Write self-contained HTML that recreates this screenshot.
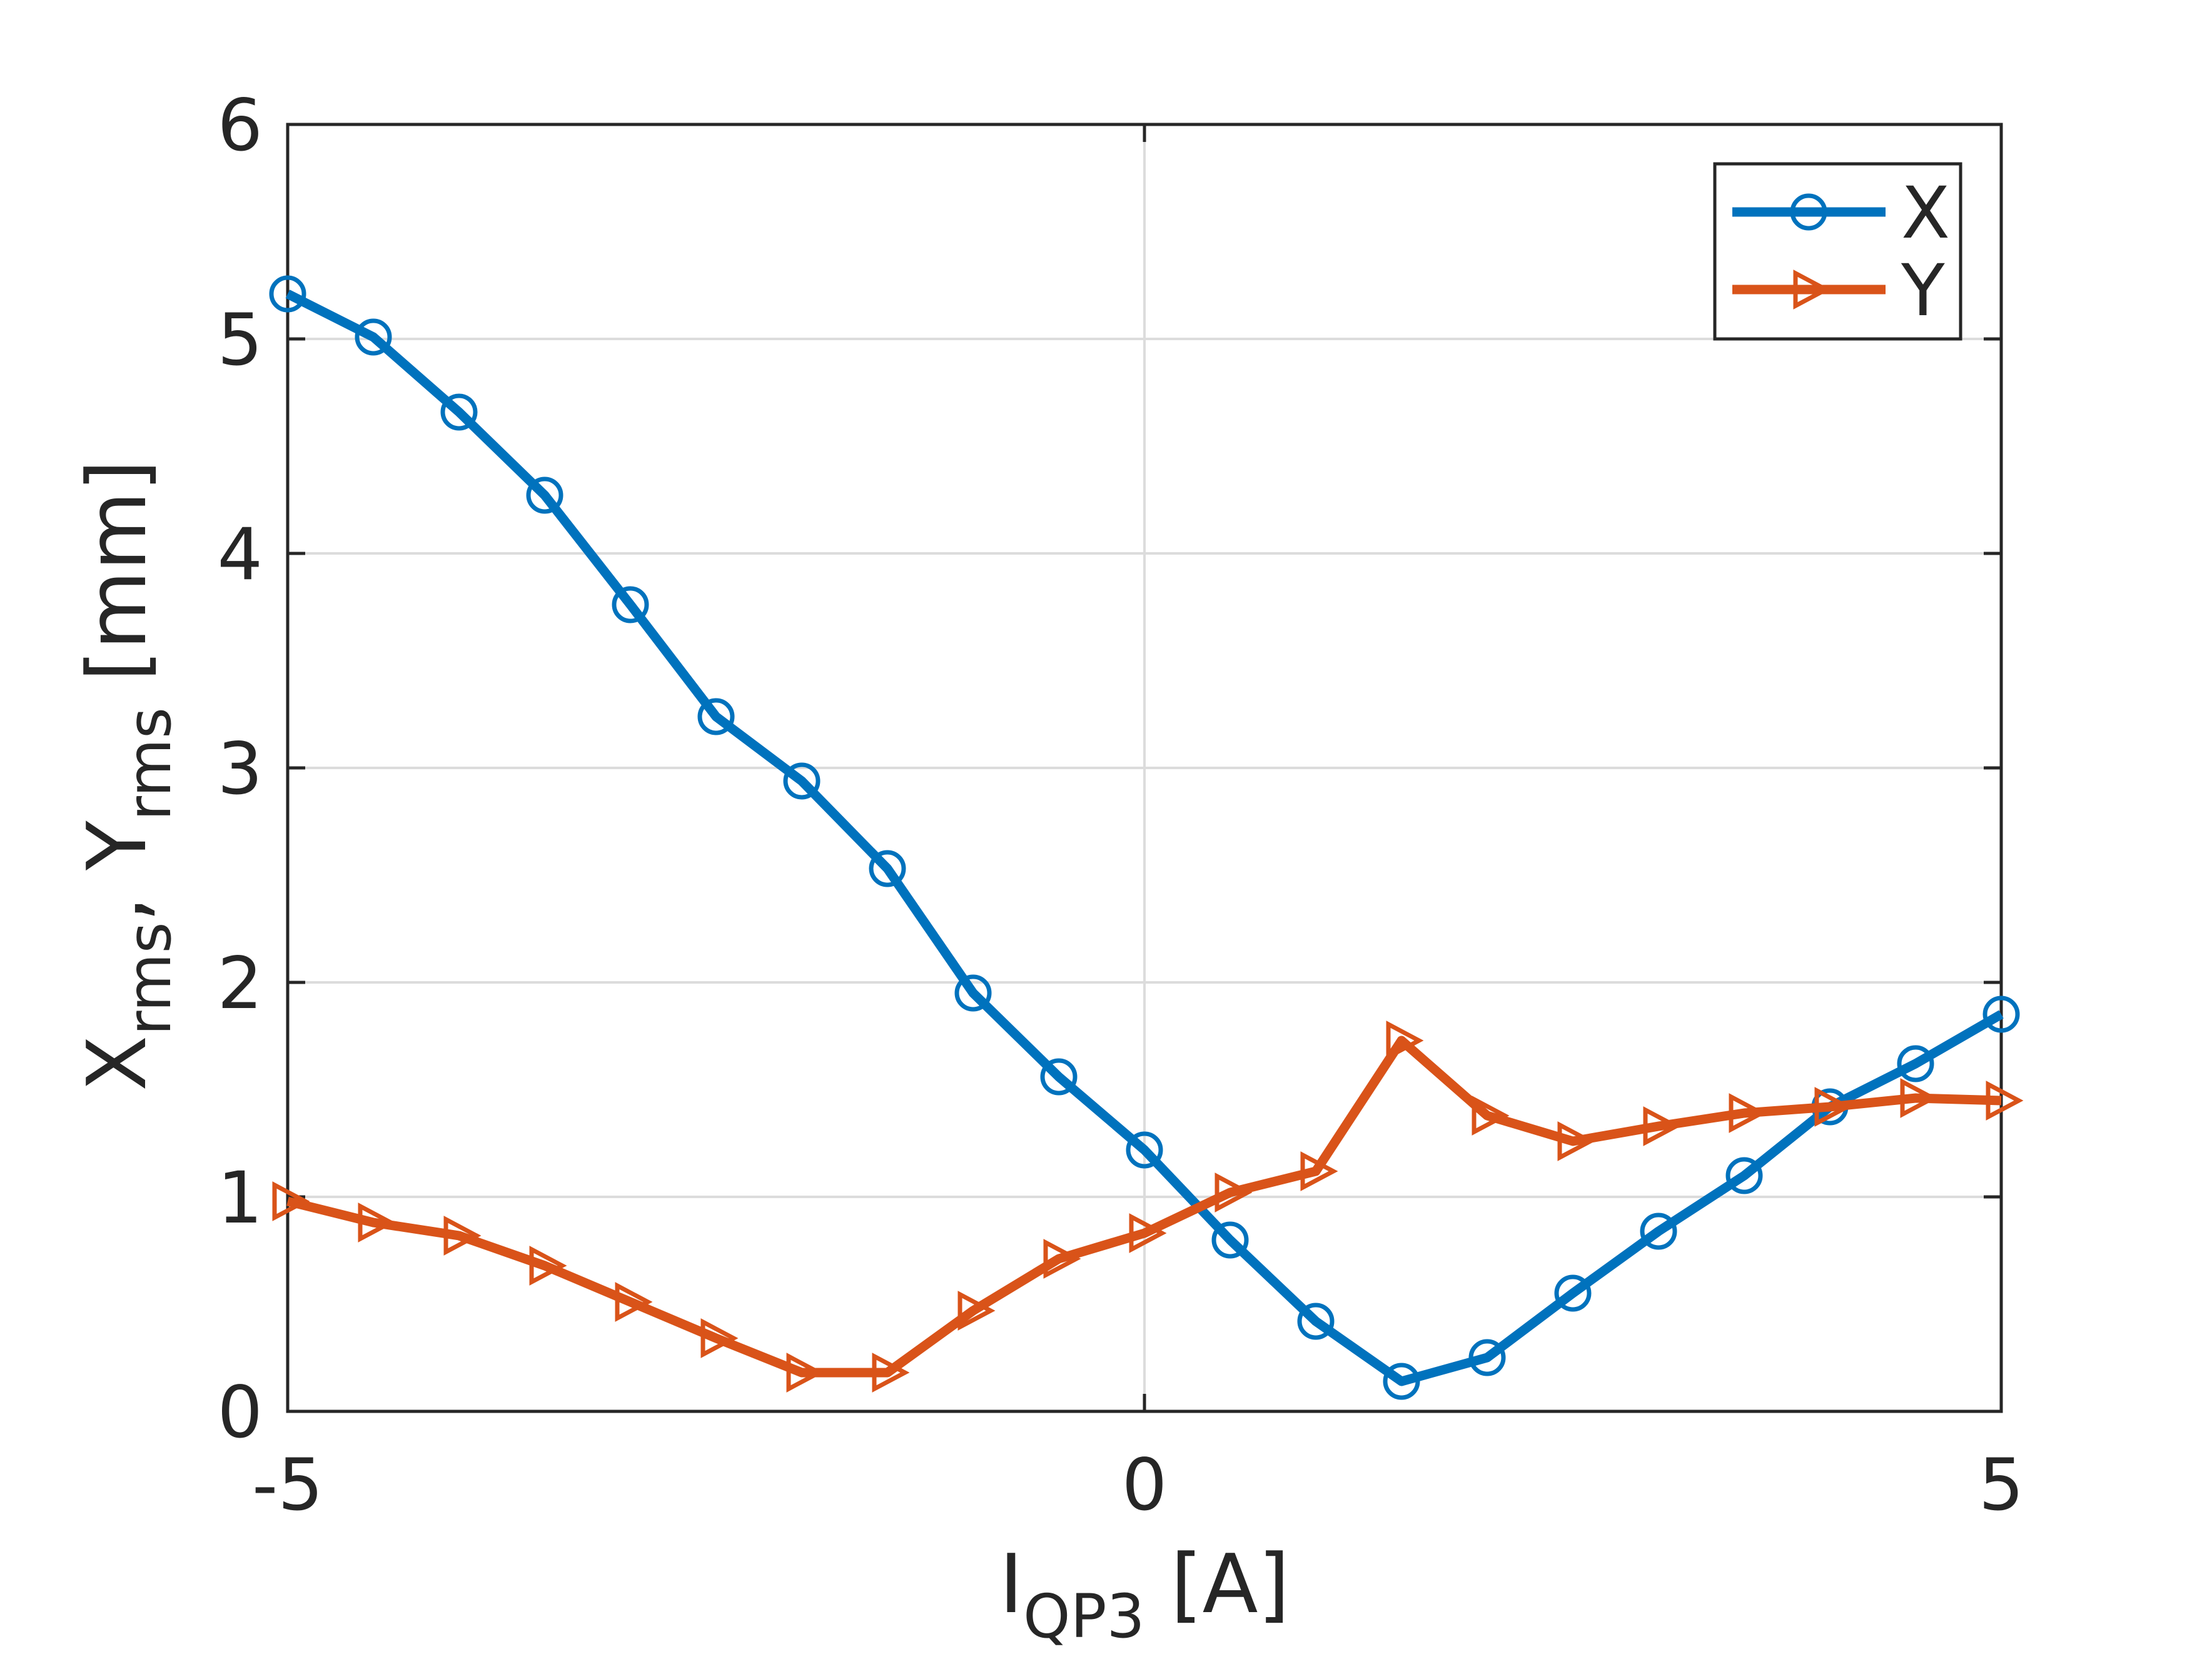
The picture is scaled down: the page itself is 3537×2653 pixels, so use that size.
<!DOCTYPE html>
<html><head><meta charset="utf-8"><style>html,body{margin:0;padding:0;background:#fff}svg{display:block}</style></head>
<body>
<svg width="3537" height="2653" viewBox="0 0 3537 2653" xmlns="http://www.w3.org/2000/svg" font-family="'DejaVu Sans','Liberation Sans',sans-serif" fill="#262626">
<defs><path id="tri" d="M-21,-26 L28,0 L-21,26 Z"/></defs>
<rect width="3537" height="2653" fill="#fff"/>
<g stroke="#dcdcdc" stroke-width="4">
<line x1="460" x2="3200" y1="1914" y2="1914"/><line x1="460" x2="3200" y1="1571" y2="1571"/><line x1="460" x2="3200" y1="1228" y2="1228"/><line x1="460" x2="3200" y1="885" y2="885"/><line x1="460" x2="3200" y1="542" y2="542"/>
<line x1="1830" x2="1830" y1="199" y2="2257"/>
</g>
<g stroke="#262626" stroke-width="5">
<rect x="460" y="199" width="2740" height="2058" fill="none"/>
<path d="M460 1914h28M460 1571h28M460 1228h28M460 885h28M460 542h28M3200 1914h-28M3200 1571h-28M3200 1228h-28M3200 885h-28M3200 542h-28M1830 2257v-28M1830 199v28"/>
</g>
<g font-size="114" text-anchor="end">
<text x="420" y="2298">0</text><text x="420" y="1955">1</text><text x="420" y="1612">2</text><text x="420" y="1269">3</text><text x="420" y="926">4</text><text x="420" y="583">5</text><text x="420" y="240">6</text>
</g>
<g font-size="114" text-anchor="middle">
<text x="460" y="2414">-5</text><text x="1830" y="2414">0</text><text x="3200" y="2414">5</text>
</g>
<text x="1830" y="2578" font-size="130" text-anchor="middle">I<tspan font-size="96" dy="40">QP3</tspan><tspan dy="-40"> [A]</tspan></text>
<text transform="translate(232,1240) rotate(-90)" font-size="130" text-anchor="middle">X<tspan font-size="96" dy="40">rms</tspan><tspan dy="-40">, Y</tspan><tspan font-size="96" dy="40">rms</tspan><tspan dy="-40"> [mm]</tspan></text>
<polyline fill="none" stroke="#0072BD" stroke-width="15" stroke-linejoin="round" points="460,470 597,539 734,659 871,792 1008,967 1145,1146 1282,1249 1419,1389 1556,1588 1693,1722 1830,1839 1967,1983 2104,2113 2241,2209 2378,2171 2515,2068 2652,1969 2789,1880 2926,1770 3063,1701 3200,1622"/>
<g fill="none" stroke="#0072BD" stroke-width="7">
<circle cx="460" cy="470" r="26"/><circle cx="597" cy="539" r="26"/><circle cx="734" cy="659" r="26"/><circle cx="871" cy="792" r="26"/><circle cx="1008" cy="967" r="26"/><circle cx="1145" cy="1146" r="26"/><circle cx="1282" cy="1249" r="26"/><circle cx="1419" cy="1389" r="26"/><circle cx="1556" cy="1588" r="26"/><circle cx="1693" cy="1722" r="26"/><circle cx="1830" cy="1839" r="26"/><circle cx="1967" cy="1983" r="26"/><circle cx="2104" cy="2113" r="26"/><circle cx="2241" cy="2209" r="26"/><circle cx="2378" cy="2171" r="26"/><circle cx="2515" cy="2068" r="26"/><circle cx="2652" cy="1969" r="26"/><circle cx="2789" cy="1880" r="26"/><circle cx="2926" cy="1770" r="26"/><circle cx="3063" cy="1701" r="26"/><circle cx="3200" cy="1622" r="26"/>
</g>
<polyline fill="none" stroke="#D95319" stroke-width="15" stroke-linejoin="round" points="460,1921 597,1955 734,1976 871,2024 1008,2082 1145,2140 1282,2195 1419,2195 1556,2096 1693,2013 1830,1972 1967,1907 2104,1873 2241,1664 2378,1784 2515,1825 2652,1801 2789,1780 2926,1770 3063,1756 3200,1760"/>
<g fill="none" stroke="#D95319" stroke-width="7">
<use href="#tri" x="460" y="1921"/><use href="#tri" x="597" y="1955"/><use href="#tri" x="734" y="1976"/><use href="#tri" x="871" y="2024"/><use href="#tri" x="1008" y="2082"/><use href="#tri" x="1145" y="2140"/><use href="#tri" x="1282" y="2195"/><use href="#tri" x="1419" y="2195"/><use href="#tri" x="1556" y="2096"/><use href="#tri" x="1693" y="2013"/><use href="#tri" x="1830" y="1972"/><use href="#tri" x="1967" y="1907"/><use href="#tri" x="2104" y="1873"/><use href="#tri" x="2241" y="1664"/><use href="#tri" x="2378" y="1784"/><use href="#tri" x="2515" y="1825"/><use href="#tri" x="2652" y="1801"/><use href="#tri" x="2789" y="1780"/><use href="#tri" x="2926" y="1770"/><use href="#tri" x="3063" y="1756"/><use href="#tri" x="3200" y="1760"/>
</g>
<rect x="2742" y="262" width="393" height="280" fill="#fff" stroke="#262626" stroke-width="5"/>
<line x1="2770" x2="3015" y1="339" y2="339" stroke="#0072BD" stroke-width="15"/>
<circle cx="2892" cy="339" r="26" fill="none" stroke="#0072BD" stroke-width="7"/>
<line x1="2770" x2="3015" y1="463" y2="463" stroke="#D95319" stroke-width="15"/>
<use href="#tri" x="2892" y="463" fill="none" stroke="#D95319" stroke-width="7"/>
<text x="3040" y="380" font-size="114">X</text>
<text x="3040" y="504" font-size="114">Y</text>
</svg>
</body></html>
